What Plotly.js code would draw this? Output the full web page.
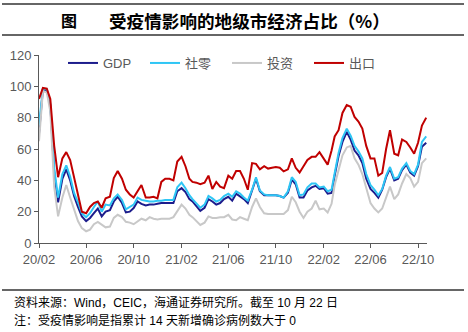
<!DOCTYPE html>
<html>
<head>
<meta charset="utf-8">
<script src="https://cdn.plot.ly/plotly-3.0.1.min.js"></script>
<style>
html,body{margin:0;padding:0;background:#fff;}
#chart{width:468px;height:332px;}
</style>
</head>
<body>
<div id="chart"></div>
<script>
const dates = [
"2020-02-01","2020-02-11","2020-02-21","2020-03-01","2020-03-11","2020-03-21",
"2020-04-01","2020-04-11","2020-04-21","2020-05-01","2020-05-11","2020-05-21",
"2020-06-01","2020-06-11","2020-06-21","2020-07-01","2020-07-11","2020-07-21",
"2020-08-01","2020-08-11","2020-08-21","2020-09-01","2020-09-11","2020-09-21",
"2020-10-01","2020-10-11","2020-10-21","2020-11-01","2020-11-11","2020-11-21",
"2020-12-01","2020-12-11","2020-12-21",
"2021-01-01","2021-01-11","2021-01-21","2021-02-01","2021-02-11","2021-02-21",
"2021-03-01","2021-03-11","2021-03-21","2021-04-01","2021-04-11","2021-04-21",
"2021-05-01","2021-05-11","2021-05-21","2021-06-01","2021-06-11","2021-06-21",
"2021-07-01","2021-07-11","2021-07-21","2021-08-01","2021-08-11","2021-08-21",
"2021-09-01","2021-09-11","2021-09-21","2021-10-01","2021-10-11","2021-10-21",
"2021-11-01","2021-11-11","2021-11-21","2021-12-01","2021-12-11","2021-12-21",
"2022-01-01","2022-01-11","2022-01-21","2022-02-01","2022-02-11","2022-02-21",
"2022-03-01","2022-03-11","2022-03-21","2022-04-01","2022-04-11","2022-04-21",
"2022-05-01","2022-05-11","2022-05-21","2022-06-01","2022-06-11","2022-06-21",
"2022-07-01","2022-07-11","2022-07-21","2022-08-01","2022-08-11","2022-08-21",
"2022-09-01","2022-09-11","2022-09-21","2022-10-01","2022-10-11","2022-10-22"
];

// GDP
const gdp = [
70,98,97.5, 88,45,26, 41,47,40, 30,23,17, 14,16,19, 22,17,20, 21,26.5,29.5, 25.5,19.5,20, 22.3,26.5,25, 24,24.5,24.5, 25,25.5,25.5,
25.5,25.5,33, 35,32.5,28, 26.5,23.5,20.5, 22.5,28,26.5, 24.5,25.5,28, 29.5,27,31.5, 30,28,25.5, 33,41,33, 30.5,30.5,30.5, 30.5,30,29, 32,40.5,37.5, 29,29,33.5,
35.5,36.5,34.5, 35,31.5,32, 43,55.5,64.5, 71,66,59, 56,51,41, 34.5,32,29, 34,42,47.5, 40,41,46.5, 50,45,43, 49,61.5,64
];
// 社零
const retail = [
75,98.5,98, 89,48,29, 44,49.5,42.5, 32,26,19, 16.5,19,23, 26.5,20,24.5, 24,28.5,31, 27.5,21.5,23, 24.5,29,27.5, 27,26.5,26.5, 27,27,27.5,
27.5,27.5,35.5, 38.5,35,30.5, 28,25,22.5, 24.5,30,28.5, 26.5,27.5,30, 31.5,29.5,33, 31.5,29,27, 34,42,33.5, 31,30.5,30.5, 30.5,30,29, 33,42,39, 30.5,31,35.5,
38,38,35.5, 36,33,34, 44.5,57.5,67, 73,68.5,62, 58.5,54,44, 37,34,30.5, 34.5,43,48.5, 41,42,47.5, 51,46,44, 50,64.5,68
];
// 投资
const invest = [
65,97,96, 84,36,17, 29,37,29, 21,14,9.5, 7.5,8.5,12, 13.5,11.5,10, 10.5,16,18, 16.5,13.5,13, 12,13.5,15.5, 14.5,16.5,15.5, 15,15.5,15.5,
15.5,16.5,20.5, 24.5,22,18, 16.5,14,11.5, 13,17,16, 16,16.5,16.5, 18,15,14.5, 16.5,15.5,14.5, 23,28.5,23, 19,18.5,18.5, 18.5,18.5,18.5, 21,29.5,26, 20,16,20,
22,27,21.5, 22,19.5,25, 37,47,56, 61,62,54, 50,44,35, 25.5,22,19.5, 22,28.5,36, 28,31,38, 44,41.5,36, 39,51,54
];
// 出口
const exportv = [
92,99,98.5, 92,62,42, 54,58,53, 42,33,20, 19,23,25.5, 26.5,22.5,28.5, 29.5,41.5,46, 41,34,31, 29,33,37, 29,29,29.5, 28.5,39,41,
41,40,52, 55,49,41, 39,38.5,37.5, 38.5,43,34.5, 39,36,35, 43,41,46, 46,41,34, 51,50.5,47, 49,47.5,48, 48.5,48,45.7, 47,54,48, 45,49,53,
55,55,58, 54,50,59, 68,72,83, 88,87,80.5, 77.5,73,62, 54,54,43, 44.7,60,72, 57,56,66, 64.5,61,57, 64,75,80
];

const seriesNames = ["GDP","社零","投资","出口"];
const seriesColors = ["#1c1c8c","#2ec6f5","#c8c8c8","#c00000"];
const seriesData = [gdp, retail, invest, exportv];

const FONT = "'Liberation Sans', Arial, 'Noto Sans CJK SC', sans-serif";

const traces = seriesData.map((ys, i) => ({
  type: "scatter",
  mode: "lines",
  name: seriesNames[i],
  x: dates,
  y: ys,
  line: {color: seriesColors[i], width: 2},
  hoverinfo: "skip"
}));

// helpers to convert pixel positions to paper coordinates
const ML = 39, MR = 41, MT = 55, MB = 89, W = 468, H = 332;
const PW = W - ML - MR, PH = H - MT - MB;
const px = x => (x - ML) / PW;
const py = y => (H - MB - y) / PH;

const layout = {
  width: W, height: H,
  margin: {l: ML, r: MR, t: MT, b: MB, pad: 0},
  paper_bgcolor: "#ffffff",
  plot_bgcolor: "#ffffff",
  showlegend: true,
  legend: {
    orientation: "h",
    x: px(63), y: py(63),
    xanchor: "left", yanchor: "middle",
    font: {family: FONT, size: 13, color: "#595959"},
    bgcolor: "rgba(0,0,0,0)",
    entrywidth: 37, entrywidthmode: "pixels",
    traceorder: "normal"
  },
  xaxis: {
    type: "date",
    range: ["2020-02-01", "2022-10-24"],
    tick0: "2020-02-01",
    dtick: "M4",
    tickformat: "%y/%m",
    ticks: "outside", ticklen: 4, tickcolor: "#595959", tickwidth: 1,
    showline: true, linecolor: "#595959", linewidth: 1,
    showgrid: false, zeroline: false,
    tickfont: {family: FONT, size: 13, color: "#595959"}
  },
  yaxis: {
    range: [0, 120],
    dtick: 20, tick0: 0,
    ticks: "outside", ticklen: 4, tickcolor: "#595959", tickwidth: 1,
    showline: true, linecolor: "#595959", linewidth: 1,
    showgrid: false, zeroline: false,
    tickfont: {family: FONT, size: 13, color: "#595959"}
  },
  shapes: [
    {type: "line", xref: "paper", yref: "paper", x0: px(2), x1: px(464), y0: py(4), y1: py(4), line: {color: "#333333", width: 1.5}},
    {type: "line", xref: "paper", yref: "paper", x0: px(2), x1: px(464), y0: py(35), y1: py(35), line: {color: "#333333", width: 1.5}},
    {type: "line", xref: "paper", yref: "paper", x0: px(2), x1: px(464), y0: py(290), y1: py(290), line: {color: "#333333", width: 1.5}}
  ],
  annotations: [
    {xref: "paper", yref: "paper", x: px(69), y: py(20), text: "<b>图</b>", showarrow: false,
     xanchor: "center", yanchor: "middle", font: {family: "'Noto Sans CJK SC', sans-serif", size: 16, color: "#000"}},
    {xref: "paper", yref: "paper", x: px(249), y: py(20), text: "<b>受疫情影响的地级市经济占比（%）</b>", showarrow: false,
     xanchor: "center", yanchor: "middle", font: {family: "'Noto Sans CJK SC', sans-serif", size: 17.6, color: "#000"}},
    {xref: "paper", yref: "paper", x: px(12), y: py(302), text: "资料来源：Wind，CEIC，海通证券研究所。截至 10 月 22 日", showarrow: false,
     xanchor: "left", yanchor: "middle", font: {family: FONT, size: 12, color: "#000"}},
    {xref: "paper", yref: "paper", x: px(12), y: py(320), text: "注：受疫情影响是指累计 14 天新增确诊病例数大于 0", showarrow: false,
     xanchor: "left", yanchor: "middle", font: {family: FONT, size: 12, color: "#000"}}
  ]
};

Plotly.newPlot("chart", traces, layout, {displayModeBar: false, staticPlot: true});
</script>
</body>
</html>
